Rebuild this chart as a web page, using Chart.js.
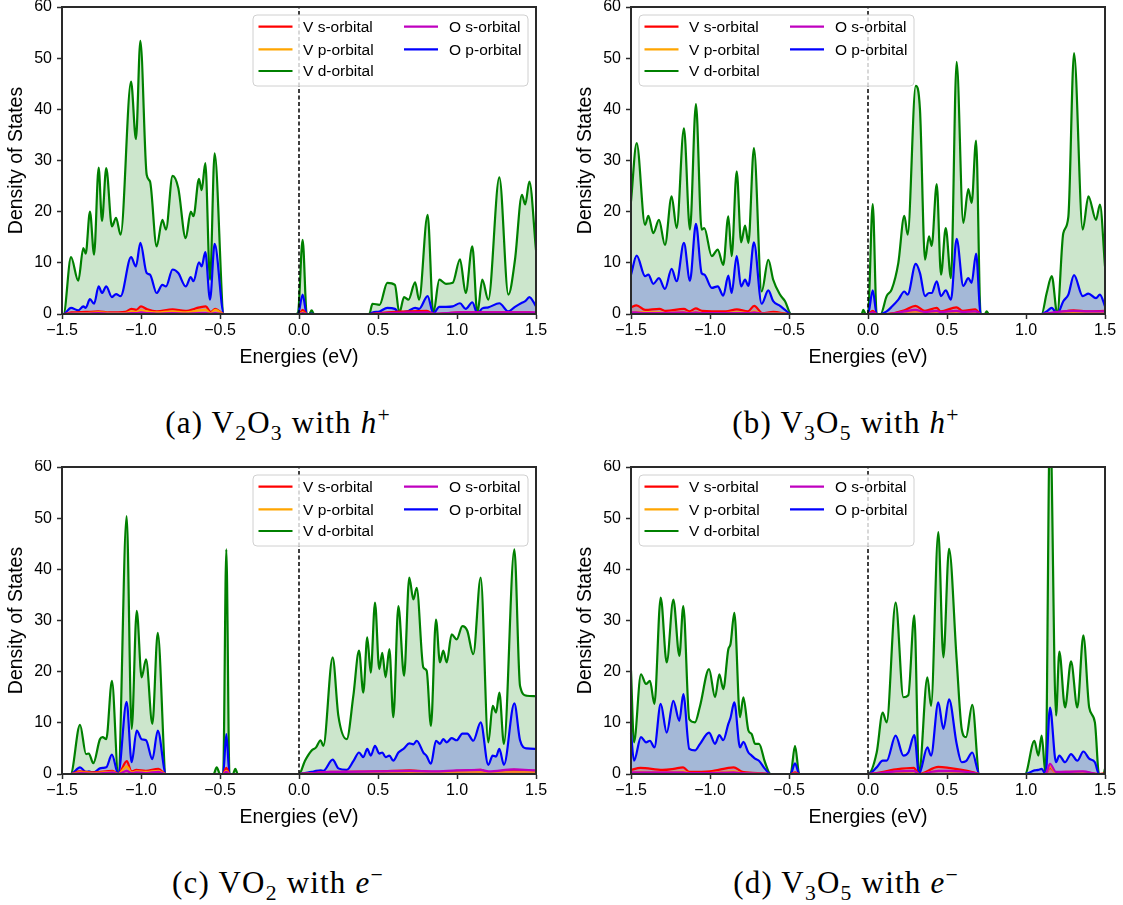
<!DOCTYPE html>
<html><head><meta charset="utf-8">
<script src="https://cdn.jsdelivr.net/npm/chart.js@4/dist/chart.umd.min.js"></script>
<style>
html,body{margin:0;padding:0;background:#fff;}
#wrap{position:relative;width:1123px;height:905px;overflow:hidden;background:#fff;}
.pane{position:absolute;width:561px;height:370px;}
.pane canvas{display:block;}
.cap{position:absolute;transform:translate(-50%,-50%);font-family:'Liberation Serif','Times New Roman',serif;font-size:31px;color:#000;white-space:nowrap;letter-spacing:1.2px;}
.cap sub{font-size:70%;vertical-align:-0.3em;line-height:0;}
.cap sup{font-size:70%;vertical-align:0.5em;line-height:0;}
</style></head>
<body><div id="wrap">
<div class="pane" style="left:0;top:0"><canvas id="cA" width="561" height="370"></canvas></div>
<div class="pane" style="left:569px;top:0"><canvas id="cB" width="561" height="370"></canvas></div>
<div class="pane" style="left:0;top:460px"><canvas id="cC" width="561" height="370"></canvas></div>
<div class="pane" style="left:569px;top:460px"><canvas id="cD" width="561" height="370"></canvas></div>
<div class="cap" style="left:278px;top:423px">(a) V<sub>2</sub>O<sub>3</sub> with <i>h</i><sup>+</sup></div>
<div class="cap" style="left:846px;top:423px">(b) V<sub>3</sub>O<sub>5</sub> with <i>h</i><sup>+</sup></div>
<div class="cap" style="left:278px;top:883px">(c) VO<sub>2</sub> with <i>e</i><sup>−</sup></div>
<div class="cap" style="left:846px;top:883px">(d) V<sub>3</sub>O<sub>5</sub> with <i>e</i><sup>−</sup></div>
</div>
<script>
// ---------- labels ----------
const legendLabels = ['V s-orbital','V p-orbital','V d-orbital','O s-orbital','O p-orbital'];
const lineColors = ['#ff0000','#ffa500','#008000','#bf00bf','#0000ff'];
const fillColors = ['rgba(255,0,0,0.2)','rgba(255,165,0,0.2)','rgba(0,128,0,0.2)','rgba(191,0,191,0.2)','rgba(0,0,255,0.2)'];
const xTickLabels = ['−1.5','−1.0','−0.5','0.0','0.5','1.0','1.5'];
const yTickLabels = ['0','10','20','30','40','50','60'];
const xTitle = 'Energies (eV)';
const yTitle = 'Density of States';
const fermiLevel = [0, 0];
const fermiSpan = [0, 60];

// ---------- (a) V2O3 with h+ ----------
const energyA = [-1.5,-1.49,-1.443,-1.397,-1.365,-1.35,-1.323,-1.297,-1.268,-1.247,
 -1.22,-1.184,-1.158,-1.129,-1.063,-1.032,-1.004,-0.964,-0.943,-0.901,
 -0.865,-0.842,-0.8,-0.764,-0.717,-0.685,-0.668,-0.633,-0.616,-0.593,
 -0.563,-0.534,-0.475,-0.02,-0.006,0.023,0.049,0.065,0.08,0.095,
 0.445,0.465,0.51,0.559,0.607,0.635,0.665,0.693,0.735,0.76,
 0.814,0.85,0.888,0.93,0.973,1.019,1.055,1.097,1.129,1.16,
 1.198,1.268,1.325,1.367,1.411,1.432,1.458,1.5];
const vdA = [0,0,11.1,6.5,12.9,11.8,20,11.6,28.6,18.2,
 28.5,17.1,18.8,15.5,45.4,34.2,53.4,27.2,25.9,13.2,
 18.4,16.5,27,24.6,14.8,20,19.1,26.4,24.2,29.5,
 6.7,31.4,0,0,0.3,14.5,0,0,0.7,0,
 0,2,1.8,6.1,5.7,0.2,3.3,2.8,6.2,2.8,
 19.4,0.2,6.7,5.9,6.1,10.7,4.1,13.2,0.2,6.7,
 2.8,26.7,3.8,10.6,23.3,21.4,25.9,12.5];
const opA = [0,0,1.2,0.7,1.5,1.2,2.9,2.0,5.4,4.1,
 5.4,3.3,3.9,3.5,11.1,9.3,13.9,8.0,7.7,4.1,
 5.7,5.4,8.7,8.0,5.4,7.2,6.4,10.1,9.3,12.1,
 2.8,13.7,0,0,0,3.8,0,0,0.1,0,
 0,0.3,0.5,1.2,1.0,0.1,0.4,0.6,1.2,1.0,
 3.5,0.1,1.4,1.4,1.5,2.1,1.0,2.3,0.1,1.1,
 1.3,2.1,0.5,1.4,2.2,2.5,3.3,1.5];
const energySA = [-1.5,-1.49,-1.44,-1.35,-1.27,-1.2,-1.1,-1.06,-1.03,-1.0,-0.96,-0.9,-0.8,-0.72,-0.63,-0.59,-0.56,-0.53,-0.475,0.0,0.023,0.05,0.45,0.56,0.81,0.85,1.02,1.1,1.27,1.46,1.5];
const vsA = [0,0,0.3,0.4,0.5,0.3,0.4,1.0,0.8,1.5,0.9,0.5,0.9,0.6,1.3,1.5,0.4,1.0,0,0,0.8,0,0,0.3,0.6,0,0.3,0.3,0.3,0.3,0.2];
const vpA = [0,0,0.1,0.2,0.3,0.2,0.2,0.5,0.4,0.7,0.5,0.3,0.5,0.3,0.7,0.8,0.2,0.8,0,0,0.3,0,0,0.1,0.2,0,0.1,0.1,0.1,0.1,0.1];
const osA = [0,0,0.1,0.1,0.2,0.1,0.1,0.2,0.2,0.3,0.2,0.1,0.2,0.1,0.2,0.2,0.1,0.2,0,0,0.2,0,0,0.2,0.3,0.1,0.3,0.3,0.3,0.3,0.3];

// ---------- (b) V3O5 with h+ ----------
const energyB = [-1.5,-1.464,-1.411,-1.39,-1.359,-1.323,-1.285,-1.243,-1.211,-1.165,
 -1.127,-1.089,-1.053,-1.036,-0.989,-0.951,-0.916,-0.884,-0.863,-0.831,
 -0.803,-0.778,-0.757,-0.722,-0.673,-0.631,-0.6,-0.557,-0.525,-0.487,
 -0.04,-0.03,-0.015,0,0.03,0.055,0.08,0.118,0.15,0.192,
 0.23,0.251,0.302,0.329,0.361,0.386,0.403,0.435,0.462,0.492,
 0.525,0.561,0.603,0.635,0.656,0.684,0.713,0.74,0.751,0.765,
 1.099,1.131,1.163,1.198,1.236,1.268,1.304,1.359,1.395,1.443,
 1.468,1.5];
const vdB = [22,33.4,17.4,19.2,15.8,18.4,13.5,23,16.8,36.3,
 16.5,41,16.5,16.8,11.3,12.6,9.6,19.1,11.3,27.9,
 14,17.3,13.9,32.4,4.4,10.6,6.7,3.8,2.5,0,
 0,0.8,0,0,21.5,0,0,3.5,4.8,10,
 19.2,15.5,44.6,39.9,10.6,15.2,13.3,25.4,7.7,16.8,
 7,49.3,17.8,24.4,21.7,33.9,0,0,0.5,0,
 0,4.1,7.4,0.05,15.8,19,51,16.5,23,18.4,
 21.4,9.3];
const opB = [7.7,11.4,7.4,7.7,5.9,7.0,4.9,8.8,6.4,13.9,
 6.5,17.6,8.0,7.7,5.1,5.4,3.6,7.5,4.1,11.3,
 5.4,6.7,5.5,14,2.0,4.6,2.5,1.6,0.8,0,
 0,0,0,0,4.6,0,0,0.5,1.4,2.8,
 4.4,3.8,9.8,8.0,3.5,4.1,4.1,6.4,3.5,4.6,
 2.8,14.7,5.5,7.0,6.1,11.8,0,0,0,0,
 0,0.5,1.2,0,2.5,3.8,7.6,3.5,4.0,3.1,
 3.8,1.5];
const energySB = [-1.5,-1.465,-1.41,-1.32,-1.28,-1.165,-1.13,-1.09,-1.05,-0.9,-0.83,-0.76,-0.72,-0.67,-0.6,-0.49,0.0,0.03,0.055,0.12,0.23,0.30,0.36,0.435,0.46,0.56,0.6,0.68,0.713,1.1,1.2,1.3,1.4,1.5];
const vsB = [1.3,1.7,0.8,1.0,0.6,1.0,0.5,1.1,0.6,0.5,0.9,0.5,1.6,0.2,0.4,0,0,0.6,0,0,0.7,1.6,0.6,1.2,0.5,1.3,0.6,0.9,0,0,0.3,0.7,0.5,0.6];
const vpB = [0.3,0.4,0.3,0.3,0.2,0.4,0.2,0.4,0.2,0.2,0.3,0.2,0.5,0.1,0.2,0,0,0.2,0,0,0.3,0.5,0.2,0.4,0.2,0.4,0.2,0.3,0,0,0.2,0.3,0.2,0.2];
const osB = [0.3,0.3,0.2,0.2,0.2,0.3,0.2,0.3,0.2,0.2,0.2,0.2,0.3,0.1,0.1,0,0,0.3,0,0,0.5,0.8,0.4,0.6,0.4,0.6,0.4,0.5,0,0,0.4,0.6,0.5,0.5];

// ---------- (c) VO2 with e- ----------
const energyC = [-1.5,-1.445,-1.386,-1.348,-1.33,-1.302,-1.26,-1.243,-1.22,-1.184,
 -1.144,-1.091,-1.059,-1.027,-0.996,-0.968,-0.928,-0.894,-0.842,-0.54,
 -0.521,-0.5,-0.48,-0.46,-0.44,-0.418,-0.403,-0.388,0,0.038,
 0.08,0.108,0.137,0.154,0.213,0.249,0.302,0.344,0.38,0.407,
 0.432,0.454,0.481,0.508,0.527,0.548,0.572,0.597,0.629,0.665,
 0.698,0.724,0.745,0.787,0.808,0.835,0.867,0.892,0.913,0.935,
 0.966,0.998,1.034,1.065,1.103,1.15,1.198,1.226,1.247,1.268,
 1.297,1.363,1.399,1.441,1.5];
const vdC = [0,0,9.6,3.9,4.0,2.1,6.8,7.2,6.8,18.2,
 0,50.4,8.8,31.9,18.9,22.4,9.8,27.6,0,0,
 1.3,0,0,43.9,0,0,1.0,0,0,2.6,
 4.6,5.2,6.6,5.5,22.8,11.4,6.8,15.3,24.1,15.9,
 26.7,19.8,33.5,20.5,23.7,18.9,24.4,11.1,32.8,19.2,
 38.4,34.1,36.4,20.8,20.2,9.4,30.2,21.8,24.1,21.8,
 27.3,26.3,28.9,28.0,23.4,38.4,6.2,13.3,12.0,15.9,
 5.9,43.9,17.2,15.3,15.2];
const opC = [0,0,1.3,0.4,0.5,0.3,1.1,1.2,1.3,3.8,
 0,14.1,2.3,8.5,6.8,6.6,2.9,8.5,0,0,
 0,0,0,7.8,0,0,0,0,0,0.2,
 0.4,0.6,0.7,0.6,2.8,1.1,0.8,2.5,4.2,3.3,
 4.9,3.6,5.5,4.0,4.2,3.3,3.6,2.6,4.2,5.0,
 6.0,5.8,6.5,4.2,3.5,2.0,6.5,5.9,6.8,6.2,
 7.0,6.6,7.9,7.9,6.5,10.1,1.8,3.6,3.4,4.9,
 1.8,13.8,6.6,5.0,4.9];
const energySC = [-1.5,-1.445,-1.39,-1.3,-1.18,-1.144,-1.09,-1.06,-1.03,-0.97,-0.89,-0.842,-0.48,-0.46,-0.44,0.0,0.2,0.5,0.7,0.85,1.0,1.15,1.2,1.36,1.5];
const vsC = [0,0,0.5,0.3,0.6,0,2.5,0.5,0.8,0.6,1.0,0,0,1.2,0,0,0.4,0.5,0.7,0.4,0.6,0.8,0.3,0.8,0.6];
const vpC = [0,0,0.3,0.2,0.4,0,1.5,0.3,0.5,0.4,0.6,0,0,0.6,0,0,0.2,0.3,0.4,0.2,0.3,0.4,0.2,0.4,0.3];
const osC = [0,0,0.2,0.1,0.3,0,0.6,0.2,0.3,0.2,0.4,0,0,0.4,0,0,0.4,0.5,0.6,0.5,0.7,0.8,0.5,0.9,0.7];

// ---------- (d) V3O5 with e- ----------
const energyD = [-1.5,-1.481,-1.437,-1.405,-1.38,-1.352,-1.312,-1.274,-1.232,-1.194,
 -1.169,-1.131,-1.095,-1.063,-1.006,-0.968,-0.941,-0.916,-0.884,-0.87,
 -0.846,-0.81,-0.789,-0.757,-0.736,-0.715,-0.69,-0.652,-0.616,-0.49,
 -0.462,-0.435,0,0.055,0.093,0.118,0.175,0.224,0.255,0.293,
 0.323,0.376,0.399,0.445,0.477,0.513,0.561,0.593,0.62,0.66,
 0.705,0.994,1.053,1.078,1.099,1.124,1.152,1.19,1.211,1.247,
 1.285,1.325,1.363,1.4,1.436,1.462,1.49,1.5];
const vdD = [20.2,6.2,19.5,17.6,18.2,13.7,34.5,21.8,34.1,23.1,
 32.8,10.7,10.1,13.3,20.5,15,19.5,16.6,24.4,25.4,
 31.5,11.1,15,8.5,7.8,5.9,5.9,2.3,0,0,
 5.5,0,0,4.2,12,10.1,33.5,15,15.4,31,
 0,18.9,13.3,47.3,22.8,44,22.4,8.8,7.2,13.5,
 0,0,6.5,3.6,7.5,0,70,11.4,23.9,13,
 22,13,27.1,13,10.1,0,0,1.0];
const opD = [8.1,2.6,7.2,6.2,6.5,5.2,13.7,8.1,14.3,10.4,
 15.6,4.9,4.6,5.9,8.1,5.9,7.6,6.6,9.8,11,
 14,5.2,6.3,4.2,3.6,3.0,2.6,1.0,0,0,
 2.1,0,0,1.3,2.6,2.6,7.5,3.6,4.2,7.6,
 0,5.2,3.6,14,8.8,14.6,5.9,2.3,2.5,4.2,
 0,0,0.7,0.8,1.0,0,13,2.3,3.6,2.3,
 3.9,2.6,4.4,3.0,2.3,0,0,0];
const energySD = [-1.5,-1.44,-1.3,-1.23,-1.17,-1.13,-1.0,-0.85,-0.8,-0.7,-0.616,-0.49,-0.462,-0.435,0.0,0.175,0.29,0.323,0.445,0.51,0.66,0.705,0.994,1.124,1.152,1.19,1.25,1.36,1.462,1.5];
const vsD = [0.8,1.2,0.8,1.0,1.3,0.4,0.5,1.3,0.5,0.2,0,0,0.3,0,0,0.9,1.2,0,1.4,1.2,0.4,0,0,0,1.2,0.3,0.4,0.4,0,0.1];
const vpD = [0.3,0.4,0.3,0.4,0.5,0.2,0.2,0.5,0.2,0.1,0,0,0.1,0,0,0.3,0.5,0,0.6,0.5,0.2,0,0,0,1.5,0.2,0.2,0.2,0,0];
const osD = [0.3,0.3,0.3,0.3,0.3,0.2,0.2,0.3,0.2,0.1,0,0,0.1,0,0,0.5,0.6,0,0.6,0.6,0.3,0,0,0,2.0,0.4,0.4,0.5,0,0];

// ---------- drawing ----------
Chart.defaults.font.family = "'Liberation Sans', Arial, Helvetica, sans-serif";
Chart.defaults.color = '#000';

const framePlugin = {
  id: 'frame',
  afterDatasetsDraw(chart) {
    const {ctx, chartArea: a} = chart;
    ctx.save();
    ctx.strokeStyle = '#2a2a2a';
    ctx.lineWidth = 2;
    ctx.strokeRect(a.left, a.top, a.right - a.left, a.bottom - a.top);
    ctx.restore();
  }
};

const legendPlugin = {
  id: 'dosLegend',
  afterDraw(chart, args, opts) {
    const {ctx, chartArea: a} = chart;
    const w = 275, h = 71, r = 4;
    const x0 = opts.side === 'right' ? a.right - 8 - w : a.left + 8;
    const y0 = a.top + 8;
    ctx.save();
    ctx.beginPath();
    ctx.moveTo(x0 + r, y0);
    ctx.arcTo(x0 + w, y0, x0 + w, y0 + h, r);
    ctx.arcTo(x0 + w, y0 + h, x0, y0 + h, r);
    ctx.arcTo(x0, y0 + h, x0, y0, r);
    ctx.arcTo(x0, y0, x0 + w, y0, r);
    ctx.closePath();
    ctx.fillStyle = 'rgba(255,255,255,0.8)';
    ctx.fill();
    ctx.strokeStyle = '#d0d0d0';
    ctx.lineWidth = 1;
    ctx.stroke();
    const rows = [11.7, 34.3, 56];
    const cols = [{h0: 5.5, h1: 39.5, t: 50}, {h0: 151, h1: 185, t: 196}];
    ctx.font = "15.5px 'Liberation Sans', Arial, sans-serif";
    ctx.textBaseline = 'middle';
    ctx.textAlign = 'left';
    legendLabels.forEach((lab, i) => {
      const c = cols[i < 3 ? 0 : 1];
      const ry = y0 + rows[i < 3 ? i : i - 3];
      ctx.strokeStyle = lineColors[i];
      ctx.lineWidth = 2.2;
      ctx.beginPath();
      ctx.moveTo(x0 + c.h0, ry);
      ctx.lineTo(x0 + c.h1, ry);
      ctx.stroke();
      ctx.fillStyle = '#000';
      ctx.fillText(lab, x0 + c.t, ry + 1);
    });
    ctx.restore();
  }
};

function pts(xs, ys) { return xs.map((x, i) => ({x: x, y: ys[i]})); }

function series(idx, xs, ys) {
  return {
    label: legendLabels[idx], data: pts(xs, ys),
    borderColor: lineColors[idx], backgroundColor: fillColors[idx],
    fill: 'origin', pointRadius: 0, borderWidth: 2.2,
    cubicInterpolationMode: 'monotone', tension: 0.4,
    clip: {left: 2, right: 2, top: 0, bottom: 2}
  };
}

function axisCommon() {
  return {
    grid: {drawOnChartArea: false, drawTicks: true, tickLength: 5, color: '#2a2a2a', tickWidth: 1.5},
    border: {display: true, color: '#2a2a2a', width: 2}
  };
}

function makeChart(id, e, vd, op, es, vs, vp, os, side) {
  new Chart(document.getElementById(id), {
    type: 'line',
    data: {datasets: [
      {label: 'Fermi', data: pts(fermiLevel, fermiSpan), borderColor: '#000', borderWidth: 1.5,
       borderDash: [4, 2.5], pointRadius: 0, fill: false, tension: 0, clip: 0},
      series(3, es, os),
      series(1, es, vp),
      series(0, es, vs),
      series(4, e, op),
      series(2, e, vd)
    ]},
    options: {
      responsive: false, animation: false, devicePixelRatio: 1,
      layout: {padding: {top: 7, right: 25, left: 0, bottom: 0}},
      plugins: {legend: {display: false}, tooltip: {enabled: false}, dosLegend: {side: side}},
      scales: {
        x: Object.assign(axisCommon(), {
          type: 'linear', min: -1.5, max: 1.5,
          afterFit(s) { s.height = 56; s.paddingLeft = 0; s.paddingRight = 0; },
          ticks: {stepSize: 0.5, autoSkip: false, maxRotation: 0, color: '#000', font: {size: 16}, padding: 2,
                  callback: (v, i) => xTickLabels[i] !== undefined ? xTickLabels[i] : v},
          title: {display: true, text: xTitle, color: '#000', font: {size: 19.5}, padding: {top: 0, bottom: 1}}
        }),
        y: Object.assign(axisCommon(), {
          type: 'linear', min: 0, max: 60,
          afterFit(s) { s.width = 62; s.paddingTop = 0; s.paddingBottom = 0; },
          ticks: {stepSize: 10, color: '#000', font: {size: 16}, padding: 5,
                  callback: (v, i) => yTickLabels[i] !== undefined ? yTickLabels[i] : v},
          title: {display: true, text: yTitle, color: '#000', font: {size: 19.5}, padding: {top: 5, bottom: 0}}
        })
      }
    },
    plugins: [framePlugin, legendPlugin]
  });
}

makeChart('cA', energyA, vdA, opA, energySA, vsA, vpA, osA, 'right');
makeChart('cB', energyB, vdB, opB, energySB, vsB, vpB, osB, 'left');
makeChart('cC', energyC, vdC, opC, energySC, vsC, vpC, osC, 'right');
makeChart('cD', energyD, vdD, opD, energySD, vsD, vpD, osD, 'left');
</script>
</body></html>
